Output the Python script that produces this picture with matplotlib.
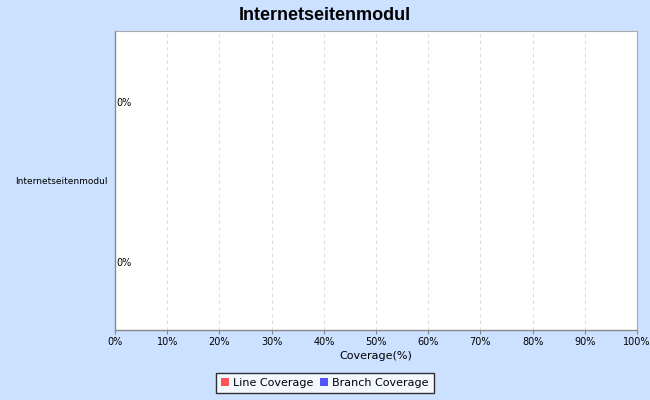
import matplotlib
matplotlib.use("Agg")
import matplotlib.pyplot as plt
from matplotlib.patches import Patch

plt.rcParams["font.family"] = ["DejaVu Sans"]

title = "Internetseitenmodul"
categories = ["Internetseitenmodul"]
series_names = ["Line Coverage", "Branch Coverage"]
series_values = [[0], [0]]
series_colors = ["#FF5555", "#5555FF"]
xticks = list(range(0, 101, 10))
xtick_labels = [f"{t}%" for t in xticks]

bg = "#CCE0FF"
fig = plt.figure(figsize=(6.5, 4.0), dpi=100, facecolor=bg)
ax = fig.add_axes([115/650, 1-330/400, (637-115)/650, (330-31)/400])
ax.set_facecolor("white")

offsets = [-0.26, 0.275]
for i, (name, vals, col) in enumerate(zip(series_names, series_values, series_colors)):
    for j, v in enumerate(vals):
        y = j + offsets[i]
        ax.barh(y, v, height=0.4, color=col)
        ax.text(v + 0.2, y, f"{v}%", va="center", ha="left", fontsize=7, color="black")

ax.set_xlim(0, 100)
ax.set_ylim(0.5, -0.5)
ax.set_xticks(xticks)
ax.set_xticklabels(xtick_labels, fontsize=7)
ax.set_yticks(range(len(categories)))
ax.set_yticklabels(categories, fontsize=6.5)
ax.tick_params(axis="y", length=0, pad=5)
ax.tick_params(axis="x", length=3, color="#888888", pad=2)
ax.grid(axis="x", color="#DDDDDD", linestyle=(0, (3, 3)), linewidth=0.8)
ax.set_axisbelow(True)
for s in ["top", "right"]:
    ax.spines[s].set_color("#AAAAAA")
    ax.spines[s].set_linewidth(0.8)
for s in ["left", "bottom"]:
    ax.spines[s].set_color("#888888")
    ax.spines[s].set_linewidth(1.0)
ax.set_xlabel("Coverage(%)", fontsize=8, labelpad=3)

fig.text(0.5, 1-16/400, title, ha="center", va="center", fontsize=13, fontweight="bold",
         family=["Liberation Sans", "DejaVu Sans"])

handles = [Patch(facecolor=c, edgecolor="none", label=n) for n, c in zip(series_names, series_colors)]
leg = fig.legend(handles=handles, loc="center", bbox_to_anchor=(0.5, 1-383/400), ncol=2,
                 fontsize=8, frameon=True, fancybox=False, handlelength=0.7, handleheight=0.7,
                 handletextpad=0.4, columnspacing=0.6, borderpad=0.45, edgecolor="black")
leg.get_frame().set_linewidth(1.0)
leg.get_frame().set_facecolor("white")

fig.savefig("out.png", dpi=100, facecolor=bg)
